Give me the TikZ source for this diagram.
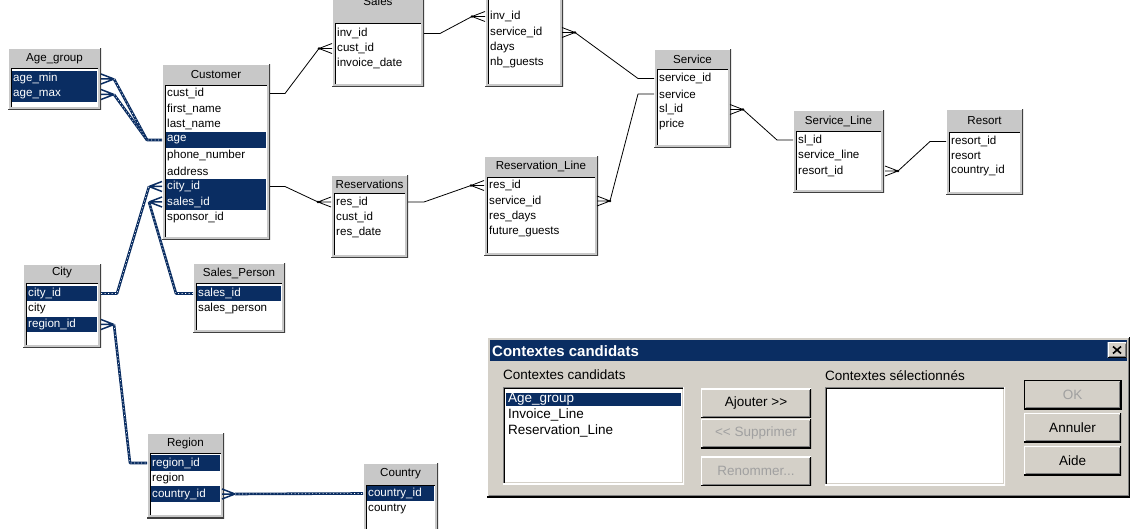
\documentclass[tikz,border=0pt]{standalone}
\usepackage{fontspec}
\setmainfont{Liberation Sans}
\usetikzlibrary{calc}

\definecolor{navy}{HTML}{0A2D62}
\definecolor{dlg}{HTML}{D4D0C8}
\definecolor{tabgray}{HTML}{C8C8C8}
\definecolor{edgedark}{HTML}{404040}
\definecolor{edgemid}{HTML}{808080}
\definecolor{distext}{HTML}{A0A0A0}

\newcommand\tabfont{\fontsize{11.6}{13}\selectfont}
\newcommand\dlgfont{\fontsize{13.5}{15}\selectfont}

\tikzset{
  conn/.style={black, line width=0.8pt, line join=round},
  selconn/.style={draw=navy, line width=2.6pt, line join=round,
    postaction={draw=white, line width=0.6pt, dash pattern=on 1pt off 2.5pt}},
  selthin/.style={draw=navy, line width=1.5pt, line join=round},
  crow/.pic={
    \draw[conn] (0,0) -- (13,-5) (0,0) -- (13,0) (0,0) -- (13,5);
    \fill[black] (0,0) circle (1.3pt);
  },
  selcrow/.pic={
    \draw[selthin] (0,0) -- (13,-5) (0,0) -- (13,0) (0,0) -- (13,5);
  },
  tableframe/.style={fill=tabgray, inner sep=0pt, outer sep=0pt,
    path picture={
      \draw[white, line width=2.4pt] (path picture bounding box.south west) |- (path picture bounding box.north east);
      \draw[edgedark, line width=2.8pt] (path picture bounding box.south west) -| (path picture bounding box.north east);
    }},
  tabtitle/.style={inner sep=0pt, font=\tabfont},
  field/.style={anchor=west, inner xsep=1pt, inner ysep=0pt, minimum height=15.5pt, align=left, font=\tabfont},
  selfield/.style={field, fill=navy, text=white},
  raised/.style={fill=dlg, inner sep=0pt, outer sep=0pt,
    path picture={
      \draw[white, line width=2pt] (path picture bounding box.south west) |- (path picture bounding box.north east);
      \draw[black, line width=2pt] (path picture bounding box.south west) -| (path picture bounding box.north east);
      \draw[edgemid, line width=1pt] ([shift={(1.5,-1.5)}]path picture bounding box.south west) -| ([shift={(-1.5,1.5)}]path picture bounding box.north east);
    }},
  sunken/.style={fill=white, inner sep=0pt, outer sep=0pt,
    path picture={
      \draw[edgemid, line width=2pt] (path picture bounding box.south west) |- (path picture bounding box.north east);
      \draw[white, line width=2pt] (path picture bounding box.south west) -| (path picture bounding box.north east);
      \draw[black, line width=1pt] ([shift={(1.5,-1.5)}]path picture bounding box.south west) |- ([shift={(-1.5,1.5)}]path picture bounding box.north east);
      \draw[dlg, line width=1pt] ([shift={(1.5,-1.5)}]path picture bounding box.south west) -| ([shift={(-1.5,1.5)}]path picture bounding box.north east);
    }},
  dlgtext/.style={font=\dlgfont, inner sep=0pt},
  button/.style={raised, dlgtext, minimum width=110pt, minimum height=29pt},
}

% table frame: name, left, top, right, bottom, bottom of the title band
\newcommand\erdtable[6]{%
  \node[tableframe, anchor=north west, minimum width={#4-#2}, minimum height={#5-(#3)}] (#1) at (#2,#3) {};
  \fill[white] (#2+3,#6) rectangle (#4-3,#5-3);
  \draw[black, line width=1pt] (#2+3.5,#5-3) -- (#2+3.5,#6+0.5) -- (#4-3,#6+0.5);
  \pgfmathsetmacro\tabL{#2+4}%
  \pgfmathsetmacro\tabW{#4-#2-10}%
}
\newcommand\erdtitle[3]{\node[tabtitle] (#1-title) at (#1.north |- 0,#2) {#3};}
\newcommand\fld[3]{\node[field, text width=\tabW pt] (#1) at (\tabL,#2) {#3};}
\newcommand\sfld[3]{\node[selfield, text width=\tabW pt] (#1) at (\tabL,#2) {#3};}

\begin{document}
\begin{tikzpicture}[x=1pt,y=-1pt]
\useasboundingbox (0,0) rectangle (1130,529);
\clip (0,0) rectangle (1130,529);
\fill[white] (0,0) rectangle (1130,529);

% ---------- tables ----------
\erdtable{agegroup}{8}{48}{101}{110}{68}
\erdtitle{agegroup}{58.5}{Age\_group}
\sfld{ag-min}{79}{age\_min}
\sfld{ag-max}{94.5}{age\_max}

\erdtable{customer}{162}{64}{270}{240}{85}
\erdtitle{customer}{74.5}{Customer}
\fld{c-custid}{93.5}{cust\_id}
\fld{c-first}{109}{first\_name}
\fld{c-last}{124.5}{last\_name}
\sfld{c-age}{140}{age}
\fld{c-phone}{155.5}{phone\_number}
\fld{c-addr}{171}{address}
\sfld{c-city}{186.5}{city\_id}
\sfld{c-sales}{202}{sales\_id}
\fld{c-sponsor}{217.5}{sponsor\_id}

\erdtable{sales}{332}{-20}{424}{87}{23}
\erdtitle{sales}{1.5}{Sales}
\fld{s-invid}{33.5}{inv\_id}
\fld{s-custid}{48.5}{cust\_id}
\fld{s-date}{63.5}{invoice\_date}

\erdtable{invline}{485}{-40}{563}{87}{-20}
\fld{i-invid}{16.5}{inv\_id}
\fld{i-servid}{32.5}{service\_id}
\fld{i-days}{48}{days}
\fld{i-guests}{63}{nb\_guests}

\erdtable{service}{654}{49}{731}{148}{69}
\erdtitle{service}{59}{Service}
\fld{sv-id}{78.5}{service\_id}
\fld{sv-service}{94}{service}
\fld{sv-slid}{109.5}{sl\_id}
\fld{sv-price}{125}{price}

\erdtable{servline}{793}{110}{884}{193}{131}
\erdtitle{servline}{121}{Service\_Line}
\fld{sl-id}{140}{sl\_id}
\fld{sl-line}{155.5}{service\_line}
\fld{sl-resort}{171}{resort\_id}

\erdtable{resort}{946}{109}{1023}{195}{132}
\erdtitle{resort}{120.5}{Resort}
\fld{rs-id}{141.5}{resort\_id}
\fld{rs-resort}{156}{resort}
\fld{rs-country}{171}{country\_id}

\erdtable{resv}{331}{175}{408}{258}{193}
\erdtitle{resv}{184}{Reservations}
\fld{r-resid}{202}{res\_id}
\fld{r-custid}{217}{cust\_id}
\fld{r-date}{232.5}{res\_date}

\erdtable{resvline}{484}{156}{598}{256}{177}
\erdtitle{resvline}{166.5}{Reservation\_Line}
\fld{rl-resid}{185.5}{res\_id}
\fld{rl-servid}{201}{service\_id}
\fld{rl-days}{216.5}{res\_days}
\fld{rl-guests}{232}{future\_guests}

\erdtable{city}{23}{264}{101}{348}{283}
\erdtitle{city}{273}{City}
\sfld{ci-id}{293.5}{city\_id}
\fld{ci-city}{309}{city}
\sfld{ci-region}{324.5}{region\_id}

\erdtable{salesp}{193}{263}{285}{333}{283}
\erdtitle{salesp}{273}{Sales\_Person}
\sfld{sp-id}{293.5}{sales\_id}
\fld{sp-name}{309}{sales\_person}

\erdtable{region}{147}{433}{224}{518}{453}
\erdtitle{region}{443}{Region}
\sfld{rg-id}{463}{region\_id}
\fld{rg-region}{478.5}{region}
\sfld{rg-country}{494}{country\_id}

\erdtable{country}{363}{463}{438}{545}{485}
\erdtitle{country}{474}{Country}
\sfld{co-id}{493.5}{country\_id}
\fld{co-country}{509}{country}

% ---------- plain joins ----------
\coordinate (j1) at ($(sales.west |- s-custid)+(-13,0)$);
\pic at (j1) {crow};
\draw[conn] (customer.east |- c-custid) -- ++(15,0) -- (j1);

\coordinate (j2) at ($(invline.west |- i-invid)+(-13,0)$);
\pic at (j2) {crow};
\draw[conn] (sales.east |- s-invid) -- ++(16,0) -- (j2);

\coordinate (j3) at ($(invline.east |- i-servid)+(12,0)$);
\pic[xscale=-1] at (j3) {crow};
\draw[conn] (j3) -- ($(service.west |- sv-id)+(-16,0)$) -- (service.west |- sv-id);

\coordinate (j4) at ($(resvline.east |- rl-servid)+(12,0)$);
\pic[xscale=-1] at (j4) {crow};
\draw[conn] (j4) -- ($(service.west |- sv-service)+(-16,0)$) -- (service.west |- sv-service);

\coordinate (j5) at ($(resv.west |- r-resid)+(-13,0)$);
\pic at (j5) {crow};
\draw[conn] (customer.east |- c-city) -- ++(15,0) -- (j5);

\coordinate (j6) at ($(resvline.west |- rl-resid)+(-13,0)$);
\pic at (j6) {crow};
\draw[conn] (resv.east |- r-resid) -- ++(16,0) -- (j6);

\coordinate (j7) at ($(service.east |- sv-slid)+(12,0)$);
\pic[xscale=-1] at (j7) {crow};
\draw[conn] (j7) -- ($(servline.west |- sl-id)+(-16,0)$) -- (servline.west |- sl-id);

\coordinate (j8) at ($(servline.east |- sl-resort)+(14,0)$);
\pic[xscale=-1] at (j8) {crow};
\draw[conn] (j8) -- ($(resort.west |- rs-id)+(-16,0)$) -- (resort.west |- rs-id);

% ---------- selected joins ----------
\coordinate (j9a) at ($(agegroup.east |- ag-min)+(13,0)$);
\coordinate (j9b) at ($(agegroup.east |- ag-max)+(13,0)$);
\coordinate (k9) at ($(customer.west |- c-age)+(-15,0)$);
\pic[xscale=-1] at (j9a) {selcrow};
\pic[xscale=-1] at (j9b) {selcrow};
\draw[selconn] (j9a) -- (k9) -- (customer.west |- c-age);
\draw[selconn] (j9b) -- (k9);

\coordinate (j10) at ($(customer.west |- c-city)+(-13,0)$);
\pic at (j10) {selcrow};
\draw[selconn] (city.east |- ci-id) -- ++(16,0) -- (j10);

\coordinate (j11) at ($(customer.west |- c-sales)+(-13,0)$);
\pic at (j11) {selcrow};
\draw[selconn] (salesp.west |- sp-id) -- ++(-17,0) -- (j11);

\coordinate (j12) at ($(city.east |- ci-region)+(13,0)$);
\pic[xscale=-1] at (j12) {selcrow};
\draw[selconn] (j12) -- ($(region.west |- rg-id)+(-17,0)$) -- (region.west |- rg-id);

\coordinate (j13) at ($(region.east |- rg-country)+(11,0)$);
\pic[xscale=-1] at (j13) {selcrow};
\draw[selconn] (j13) -- (country.west |- co-id);

% ---------- dialog ----------
\node[raised, anchor=north west, minimum width=643pt, minimum height=160pt] (dialog) at (487,337) {};
\node[fill=navy, inner sep=0pt, anchor=north west, minimum width=637pt, minimum height=21pt] (titlebar) at (490,340) {};
\node[anchor=west, inner sep=0pt, text=white, font=\bfseries\fontsize{15}{17}\selectfont] (dlgtitle) at (492,351) {Contextes candidats};
\node[raised, minimum width=19pt, minimum height=15pt] (closebtn) at (1117,350) {};
\draw[black, line width=1.6pt] ($(closebtn.center)+(-4,-3.5)$) -- ($(closebtn.center)+(4,3.5)$)
  ($(closebtn.center)+(-4,3.5)$) -- ($(closebtn.center)+(4,-3.5)$);

\node[dlgtext, anchor=west] (lblcand) at (503,375) {Contextes candidats};
\node[sunken, anchor=north west, minimum width=181pt, minimum height=97pt] (candlist) at (503,387) {};
\node[dlgtext, fill=navy, text=white, anchor=west, inner xsep=2pt, minimum height=13.5pt, text width=171pt, align=left] (itage) at (506,399.5) {Age\_group};
\node[dlgtext, anchor=west] (itinv) at (508,415) {Invoice\_Line};
\node[dlgtext, anchor=west] (itres) at (508,431) {Reservation\_Line};

\node[button] (ajouter) at (756,403) {Ajouter >{}>};
\node[button, text=distext] (supprimer) at (756,433.5) {<{}< Supprimer};
\node[button, text=distext] (renommer) at (756,471) {Renommer...};

\node[dlgtext, anchor=west] (lblsel) at (825,376) {Contextes sélectionnés};
\node[sunken, anchor=north west, minimum width=180pt, minimum height=98pt] (sellist) at (825,387) {};

\node[button, draw=black, line width=1pt, text=distext, minimum width=97pt, minimum height=29pt] (okbtn) at (1072.5,394.5) {OK};
\node[button, minimum width=97pt, minimum height=29pt] (annuler) at (1072.5,427.5) {Annuler};
\node[button, minimum width=97pt, minimum height=29pt] (aide) at (1072.5,460.5) {Aide};
\end{tikzpicture}
\end{document}
